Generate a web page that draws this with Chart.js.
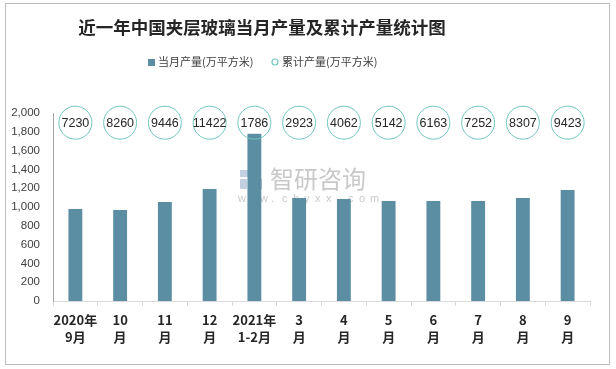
<!DOCTYPE html>
<html>
<head>
<meta charset="utf-8">
<script src="https://cdn.jsdelivr.net/npm/chart.js@4.4.1/dist/chart.umd.min.js"></script>
<style>
  html, body { margin: 0; padding: 0; background: #ffffff; }
  #wrap { position: relative; width: 616px; height: 369px; }
</style>
</head>
<body>
<div id="wrap"><canvas id="myChartVerre" width="616" height="369"></canvas></div>
<script>
//? Données du graphique.

const titreGraphique = "近一年中国夹层玻璃当月产量及累计产量统计图";

const labelsMois = [
  ["2020年", "9月"],
  ["10", "月"],
  ["11", "月"],
  ["12", "月"],
  ["2021年", "1-2月"],
  ["3", "月"],
  ["4", "月"],
  ["5", "月"],
  ["6", "月"],
  ["7", "月"],
  ["8", "月"],
  ["9", "月"],
];

const productionMois = [980, 968, 1053, 1191, 1780, 1096, 1085, 1064, 1064, 1064, 1096, 1181];

const productionCumulee = [7230, 8260, 9446, 11422, 1786, 2923, 4062, 5142, 6163, 7252, 8307, 9423];

const nomSerieMois = "当月产量(万平方米)";
const nomSerieCumul = "累计产量(万平方米)";

const ticksY = [0, 200, 400, 600, 800, 1000, 1200, 1400, 1600, 1800, 2000];

//? -------------------------------------------------

const couleurBarre = "#5b8ea3";
const couleurCercle = "#72c7c0";
const policeCjk = "'Noto Sans CJK SC', 'Liberation Sans', sans-serif";

//? Plugin : cadre, titre, légende, filigrane et cercles des cumuls.

const pluginDecor = {
  id: "decor",
  beforeDraw(chart) {
    const ctx = chart.ctx;
    ctx.save();
    ctx.fillStyle = "#ffffff";
    ctx.fillRect(0, 0, chart.width, chart.height);
    ctx.strokeStyle = "#bcbcbc";
    ctx.lineWidth = 1;
    ctx.strokeRect(5.5, 3.5, 604, 361);

    // filigrane
    ctx.globalAlpha = 0.55;
    ctx.fillStyle = "#8fa9c9";
    ctx.fillRect(240, 170, 20, 7);
    ctx.fillRect(240, 179, 7, 10);
    ctx.fillStyle = "#6f93c0";
    ctx.fillRect(250, 179, 12, 10);
    ctx.fillStyle = "#9a9a9a";
    ctx.font = "24px " + policeCjk;
    ctx.textAlign = "left";
    ctx.textBaseline = "middle";
    ctx.fillText("智研咨询", 270, 179);
    ctx.font = "11px 'Liberation Sans', sans-serif";
    const site = "www.chyxx.com";
    for (let i = 0; i < site.length; i++) {
      ctx.fillText(site[i], 238 + i * 11, 199);
    }
    ctx.restore();
  },
  afterDraw(chart) {
    const ctx = chart.ctx;
    const xScale = chart.scales.x;
    const yScale = chart.scales.y;
    ctx.save();

    // titre
    ctx.fillStyle = "#262626";
    ctx.font = "bold 17.5px " + policeCjk;
    ctx.textAlign = "center";
    ctx.textBaseline = "middle";
    ctx.fillText(titreGraphique, 262, 27);

    // légende
    ctx.font = "11px " + policeCjk;
    ctx.textAlign = "left";
    ctx.fillStyle = couleurBarre;
    ctx.fillRect(148, 59, 7, 7);
    ctx.fillStyle = "#404040";
    ctx.fillText(nomSerieMois, 158, 62);
    ctx.strokeStyle = couleurCercle;
    ctx.lineWidth = 1.2;
    ctx.beginPath();
    ctx.arc(275, 62, 3, 0, Math.PI * 2);
    ctx.stroke();
    ctx.fillStyle = "#404040";
    ctx.fillText(nomSerieCumul, 282, 62);

    // cercles des cumuls
    const yCercle = yScale.getPixelForValue(1897);
    ctx.font = "12.5px 'Liberation Sans', sans-serif";
    ctx.textAlign = "center";
    productionCumulee.forEach((valeur, i) => {
      const x = xScale.getPixelForValue(i);
      ctx.strokeStyle = couleurCercle;
      ctx.lineWidth = 1;
      ctx.beginPath();
      ctx.arc(x, yCercle, 16.5, 0, Math.PI * 2);
      ctx.stroke();
      ctx.fillStyle = "#262626";
      ctx.fillText(String(valeur), x, yCercle + 1);
    });
    ctx.restore();
  },
};

//? -------------------------------------------------

//? Construction du graphique.

const constructionDuGraphique = () => {
  try {
    const ctxVerre = document.getElementById("myChartVerre").getContext("2d");

    const data = {
      labels: labelsMois,
      datasets: [
        {
          label: nomSerieMois,
          data: productionMois,
          backgroundColor: couleurBarre,
          borderWidth: 0,
          categoryPercentage: 1,
          barPercentage: 0.31,
        },
      ],
    };

    const options = {
      responsive: false,
      animation: { duration: 0 },
      layout: {
        padding: { top: 113, left: 5, right: 26, bottom: 0 },
      },
      plugins: {
        legend: { display: false },
        title: { display: false },
        tooltip: { enabled: false },
      },
      scales: {
        x: {
          offset: true,
          grid: {
            offset: true,
            drawOnChartArea: false,
            drawTicks: true,
            tickLength: 5,
            color: "#d9d9d9",
          },
          border: { color: "#d9d9d9", width: 1 },
          ticks: {
            maxRotation: 0,
            autoSkip: false,
            padding: 5,
            color: "#262626",
            font: { family: policeCjk, size: 13, weight: "bold", lineHeight: 1.32 },
          },
          afterFit: (scale) => {
            scale.height = 68;
          },
        },
        y: {
          min: 0,
          max: 2000,
          afterBuildTicks: (scale) => {
            scale.ticks = ticksY.map((v) => ({ value: v }));
          },
          grid: { display: false, drawTicks: false },
          border: { color: "#a6a6a6", width: 1 },
          ticks: {
            padding: 13,
            color: "#404040",
            font: { family: "'Liberation Sans', sans-serif", size: 11.5 },
            callback: (v) => v.toLocaleString("en-US"),
          },
          afterFit: (scale) => {
            scale.width = 48;
          },
        },
      },
    };

    new Chart(ctxVerre, {
      type: "bar",
      data,
      options,
      plugins: [pluginDecor],
    });
  } catch (error) {
    console.log("🔴 ERREUR | Construction graphique :", error);
  }
};

constructionDuGraphique();
</script>
</body>
</html>
